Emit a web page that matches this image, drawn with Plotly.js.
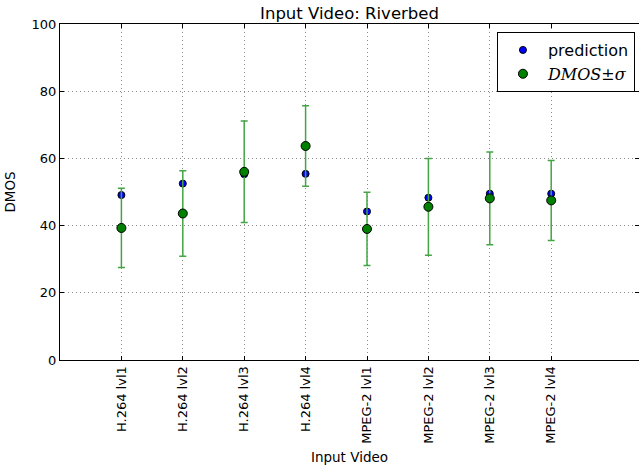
<!DOCTYPE html>
<html>
<head>
<meta charset="utf-8">
<script src="https://cdn.plot.ly/plotly-3.0.1.min.js"></script>
<style>html,body{margin:0;padding:0;background:#fff;}</style>
</head>
<body>
<div id="chart" style="width:639px;height:465px;"></div>
<script>
const categories = ["H.264 lvl1","H.264 lvl2","H.264 lvl3","H.264 lvl4","MPEG-2 lvl1","MPEG-2 lvl2","MPEG-2 lvl3","MPEG-2 lvl4"];
const positions = [1,2,3,4,5,6,7,8];
const prediction = [49.1, 52.5, 55.3, 55.4, 44.2, 48.3, 49.5, 49.5];
const dmos = [39.3, 43.6, 56.0, 63.7, 39.0, 45.6, 48.1, 47.5];
const sigma = [11.8, 12.7, 15.1, 12.0, 10.9, 14.4, 13.8, 11.9];
const yTicks = [0, 20, 40, 60, 80, 100];

const fam = "DejaVu Sans, sans-serif";

const traces = [
  {
    x: positions, y: prediction, type: "scatter", mode: "markers",
    name: "prediction",
    marker: {color: "#0000ff", size: 7, line: {color: "#000", width: 1}}
  },
  {
    x: positions, y: dmos, type: "scatter", mode: "markers",
    name: '<span style="font-family:DejaVu Serif, serif"><i>DMOS</i>±<i>σ</i></span>',
    marker: {color: "#008000", size: 9, line: {color: "#000", width: 1}},
    error_y: {type: "data", array: sigma, visible: true, color: "#44a544", thickness: 1.5, width: 3.5}
  }
];

const layout = {
  width: 639, height: 465,
  margin: {l: 60, r: 0, t: 24, b: 105},
  paper_bgcolor: "#fff", plot_bgcolor: "#fff",
  font: {family: fam, size: 13, color: "#000"},
  title: {text: "Input Video: Riverbed", font: {family: fam, size: 16.5, color: "#000"}, x: 0.5, xref: "paper", xanchor: "center", y: 1, yref: "paper", yanchor: "bottom", pad: {b: 5}},
  xaxis: {
    range: [0, 9.43],
    tickmode: "array", tickvals: positions, ticktext: categories,
    tickangle: -90,
    ticks: "inside", ticklen: 4, tickcolor: "#000",
    showline: true, linecolor: "#000", linewidth: 1, mirror: "ticks",
    showgrid: true, gridcolor: "#8a8a8a", griddash: "1px,3px", gridwidth: 1,
    zeroline: false,
    tickfont: {family: fam, size: 13, color: "#000"},
    title: {text: "Input Video", font: {family: fam, size: 13.5, color: "#000"}, standoff: 10}
  },
  yaxis: {
    range: [0, 100],
    tickmode: "array", tickvals: yTicks,
    ticks: "inside", ticklen: 4, tickcolor: "#000",
    showline: true, linecolor: "#000", linewidth: 1, mirror: "ticks",
    showgrid: true, gridcolor: "#8a8a8a", griddash: "1px,3px", gridwidth: 1,
    zeroline: false,
    tickfont: {family: fam, size: 13, color: "#000"},
    title: {text: "DMOS", font: {family: fam, size: 13.5, color: "#000"}, standoff: 12}
  },
  showlegend: true,
  legend: {
    x: 0.993, xanchor: "right", y: 0.976, yanchor: "top",
    bgcolor: "#fff", bordercolor: "#000", borderwidth: 1,
    font: {family: fam, size: 16, color: "#000"},
    itemwidth: 40
  }
};

Plotly.newPlot("chart", traces, layout, {displayModeBar: false, staticPlot: true});
</script>
</body>
</html>
